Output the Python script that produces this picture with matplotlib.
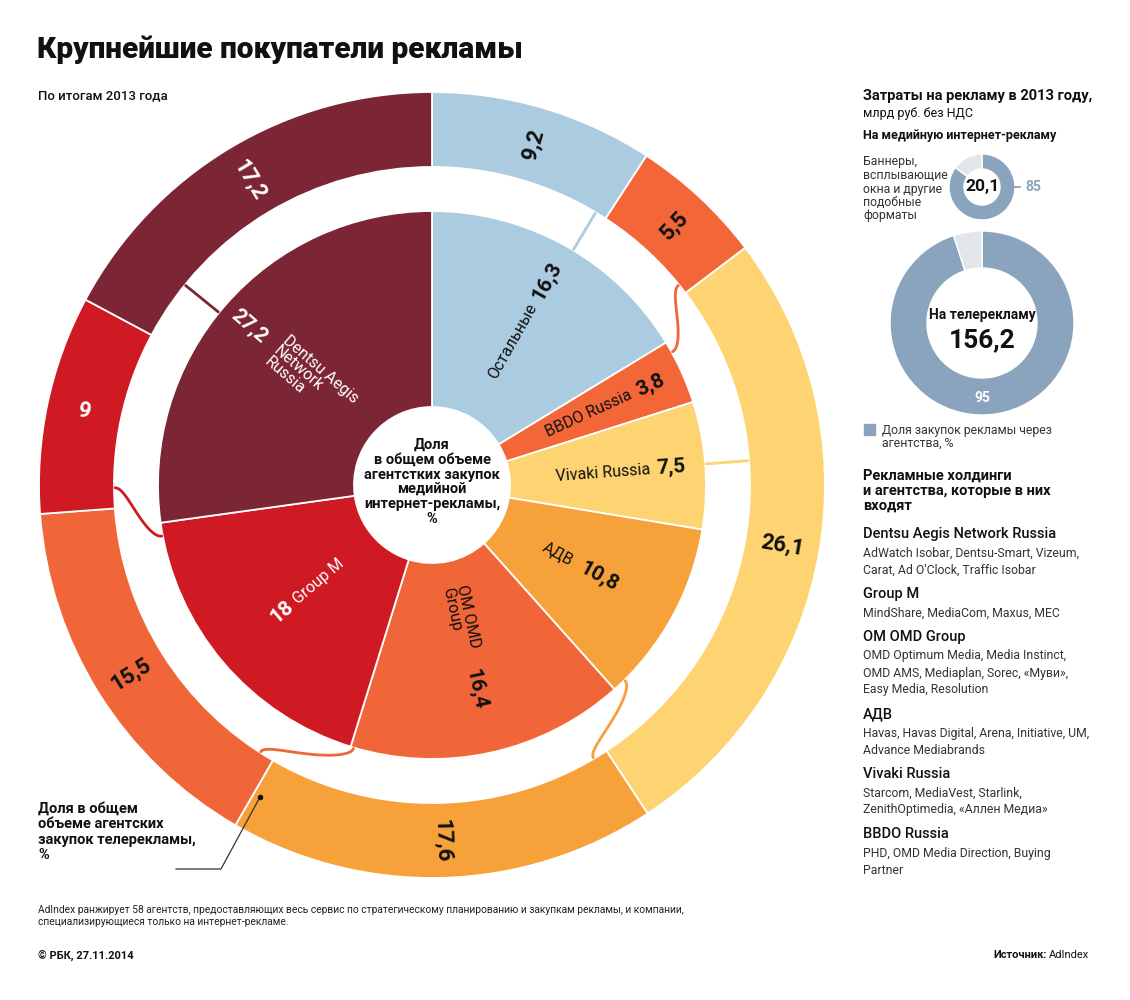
import numpy as np
import matplotlib
import matplotlib.pyplot as plt

matplotlib.use('Agg')
plt.rcParams['font.family'] = ['Roboto', 'DejaVu Sans']

# доля в общем объеме агентских закупок, % (по часовой стрелке от 12 часов)
inner_names = ['Остальные', 'BBDO Russia', 'Vivaki Russia', 'АДВ', 'OM OMD\nGroup',
               'Group M', 'Dentsu Aegis\nNetwork\nRussia']
internet_share = [16.3, 3.8, 7.5, 10.8, 16.4, 18, 27.2]
tv_share = [9.2, 5.5, 26.1, 17.6, 15.5, 9, 17.2]
colors = ['#abcbe0', '#f26638', '#fed472', '#f6a13a', '#f16638', '#cf1a24', '#7b2535']

# затраты на рекламу в 2013 году, млрд руб. и доля через агентства, %
internet_spend = 20.1
tv_spend = 156.2
internet_agency = 85
tv_agency = 95

holdings = ['Dentsu Aegis Network Russia', 'Group M', 'OM OMD Group', 'АДВ',
            'Vivaki Russia', 'BBDO Russia']
members = [
    ['AdWatch Isobar, Dentsu-Smart, Vizeum,', "Carat, Ad O'Clock, Traffic Isobar"],
    ['MindShare, MediaCom, Maxus, MEC'],
    ['OMD Optimum Media, Media Instinct,', 'OMD AMS, Mediaplan, Sorec, «Муви»,',
     'Easy Media, Resolution'],
    ['Havas, Havas Digital, Arena, Initiative, UM,', 'Advance Mediabrands'],
    ['Starcom, MediaVest, Starlink,', 'ZenithOptimedia, «Аллен Медиа»'],
    ['PHD, OMD Media Direction, Buying', 'Partner'],
]

BLUE = '#8aa4bd'
GREY = '#e2e5e9'
W, H = 1130, 1000


def fmt(v):
    return f'{v:g}'.replace('.', ',')


def mid_angles(vals):
    v = np.asarray(vals, float)
    frac = v / v.sum() * 360
    return np.cumsum(frac) - frac / 2


def polar(a, r):
    t = np.radians(a)
    return r * np.sin(t), r * np.cos(t)


def text_rot(a):
    # поворот текста вдоль радиуса; второй флаг - текст перевернут (читается к центру)
    r = (90 - a + 180) % 360 - 180
    if r > 90:
        return r - 180, True
    if r < -90:
        return r + 180, True
    return r, False


def sub_axes(x, y, half):
    a = fig.add_axes([(x - half) / W, 1 - (y + half) / H, 2 * half / W, 2 * half / H])
    return a


fig = plt.figure(figsize=(11.3, 10), dpi=100)

# ---- главный график
cx, cy, half = 432, 485, 400
R_out, w_out, R_in, hole = 393, 75, 274, 78
ax = sub_axes(cx, cy, half)
ax.pie(tv_share, radius=R_out, colors=colors, startangle=90, counterclock=False,
       wedgeprops=dict(width=w_out, edgecolor='white', linewidth=1.3))
ax.pie(internet_share, radius=R_in, colors=colors, startangle=90, counterclock=False,
       wedgeprops=dict(width=R_in - hole, edgecolor='white', linewidth=1.3))
ax.set_xlim(-half, half)
ax.set_ylim(-half, half)
ax.set_aspect('equal')
ax.axis('off')

# связки между кольцами (угол снаружи, угол внутри)
links = [(31, 31), (51, 61), (85.6, 85.6), (149.4, 135.4), (212.7, 196.6),
         (269.5, 259.3), (309, 309)]
t = np.linspace(0, 1, 60)
s = 3 * t ** 2 - 2 * t ** 3
for (a_out, a_in), c in zip(links, colors):
    rr = R_in + 1 + (R_out - w_out - R_in - 2) * t
    aa = a_in + (a_out - a_in) * s
    x, y = polar(aa, rr)
    ax.plot(x, y, color=c, lw=2, solid_capstyle='round')

# подписи внешнего кольца
for i, (a, v) in enumerate(zip(mid_angles(tv_share), tv_share)):
    x, y = polar(a, R_out - w_out / 2)
    rot, _ = text_rot(a)
    ax.text(x, y, fmt(v), rotation=rot, rotation_mode='anchor',
            ha='center', va='center', fontsize=16, fontweight='bold',
            color='white' if i >= 5 else '#111111')

# подписи внутреннего круга
name_r = [207, 219, 219, 160, 168, 180, 207]
val_r = [234, 240, 240, 190, 209, 197, 242]
for i, (a, v, n) in enumerate(zip(mid_angles(internet_share), internet_share, inner_names)):
    c = 'white' if i >= 5 else '#111111'
    rot, flipped = text_rot(a)
    x, y = polar(a, name_r[i])
    ax.text(x, y, n, rotation=rot, rotation_mode='anchor',
            ha='left' if flipped else 'right', va='center',
            fontsize=11.5, color=c, linespacing=0.95, multialignment='left')
    x, y = polar(a, val_r[i])
    ax.text(x, y, fmt(v), rotation=rot, rotation_mode='anchor', ha='center',
            va='center', fontsize=15, fontweight='bold', color=c)

ax.text(0, 3, 'Доля\nв общем объеме\nагентстких закупок\nмедийной\nинтернет-рекламы,\n%',
        ha='center', va='center', fontsize=10.5, fontweight='bold', linespacing=1.08,
        color='#111111')

# ---- малые кольца справа
ax1 = sub_axes(982, 187, 40)
ax1.pie([internet_agency, 100 - internet_agency], radius=33, colors=[BLUE, GREY],
        startangle=90, counterclock=False,
        wedgeprops=dict(width=15, edgecolor='white', linewidth=1))
ax1.set_xlim(-40, 40)
ax1.set_ylim(-40, 40)
ax1.set_aspect('equal')
ax1.axis('off')
ax1.text(0, 0, fmt(internet_spend), ha='center', va='center', fontsize=12.5,
         fontweight='bold', color='#111111')

ax2 = sub_axes(982, 323, 100)
ax2.pie([tv_agency, 100 - tv_agency], radius=92, colors=[BLUE, GREY],
        startangle=90, counterclock=False,
        wedgeprops=dict(width=37, edgecolor='white', linewidth=1))
ax2.set_xlim(-100, 100)
ax2.set_ylim(-100, 100)
ax2.set_aspect('equal')
ax2.axis('off')
ax2.text(0, 8, 'На телерекламу', ha='center', va='center', fontsize=10,
         fontweight='bold', color='#111111')
ax2.text(0, -17, fmt(tv_spend), ha='center', va='center', fontsize=19,
         fontweight='bold', color='#111111')
x95, y95 = polar(180, 92 - 37 / 2)
ax2.text(x95, y95 - 2, str(tv_agency), ha='center', va='center', fontsize=10,
         fontweight='bold', color='white')

# ---- тексты поверх
ov = fig.add_axes([0, 0, 1, 1])
ov.set_xlim(0, W)
ov.set_ylim(H, 0)
ov.axis('off')

ov.text(37, 50, 'Крупнейшие покупатели рекламы', fontsize=21.5, fontweight='heavy',
        va='center', color='#111111')
ov.text(38, 96, 'По итогам 2013 года', fontsize=9.5, fontweight='medium',
        va='center', color='#111111')

ov.text(863, 96, 'Затраты на рекламу в 2013 году,', fontsize=10.5, fontweight='bold',
        va='center', color='#111111')
ov.text(863, 113, 'млрд руб. без НДС', fontsize=9, va='center', color='#111111')
ov.text(863, 136, 'На медийную интернет-рекламу', fontsize=9, fontweight='bold',
        va='center', color='#111111')
ov.text(863, 189, 'Баннеры,\nвсплывающие\nокна и другие\nподобные\nформаты',
        fontsize=8.8, va='center', color='#333333', linespacing=1.05)
ov.plot([1007, 1020], [187, 187], color=BLUE, lw=1.3)
ov.text(1025, 187, str(internet_agency), fontsize=10, fontweight='bold',
        color=BLUE, va='center')

ov.add_patch(plt.Rectangle((864, 424), 11, 11, color=BLUE))
ov.text(882, 437, 'Доля закупок рекламы через\nагентства, %', fontsize=8.8,
        va='center', color='#333333', linespacing=1.05)

ov.text(863, 491, 'Рекламные холдинги\nи агентства, которые в них\nвходят', fontsize=10.5,
        fontweight='bold', va='center', color='#111111', linespacing=1.1)

y = 534
for name, lines in zip(holdings, members):
    ov.text(863, y, name, fontsize=10.5, fontweight='medium', va='center', color='#111111')
    y += 19
    for ln in lines:
        ov.text(863, y, ln, fontsize=8.8, va='center', color='#333333')
        y += 17
    y += 7

ov.text(38, 832, 'Доля в общем\nобъеме агентских\nзакупок телерекламы,\n%', fontsize=10.5,
        fontweight='bold', va='center', color='#111111', linespacing=1.15)
ov.plot([176, 221, 260], [869, 869, 797], color='#333333', lw=0.9)
ov.plot([260], [797], 'o', color='#111111', ms=3)

ov.text(38, 916, 'AdIndex ранжирует 58 агентств, предоставляющих весь сервис по стратегическому '
        'планированию и закупкам рекламы, и компании,\nспециализирующиеся только на интернет-рекламе.',
        fontsize=7.4, va='center', color='#222222', linespacing=1.15)
ov.text(38, 955, '© РБК, 27.11.2014', fontsize=8, fontweight='bold', va='center',
        color='#111111')
ov.text(1047, 955, 'Источник:', fontsize=8, fontweight='bold', va='center', ha='right',
        color='#111111')
ov.text(1049, 955, 'AdIndex', fontsize=8, va='center', ha='left', color='#111111')

plt.savefig('out.png', dpi=100)
